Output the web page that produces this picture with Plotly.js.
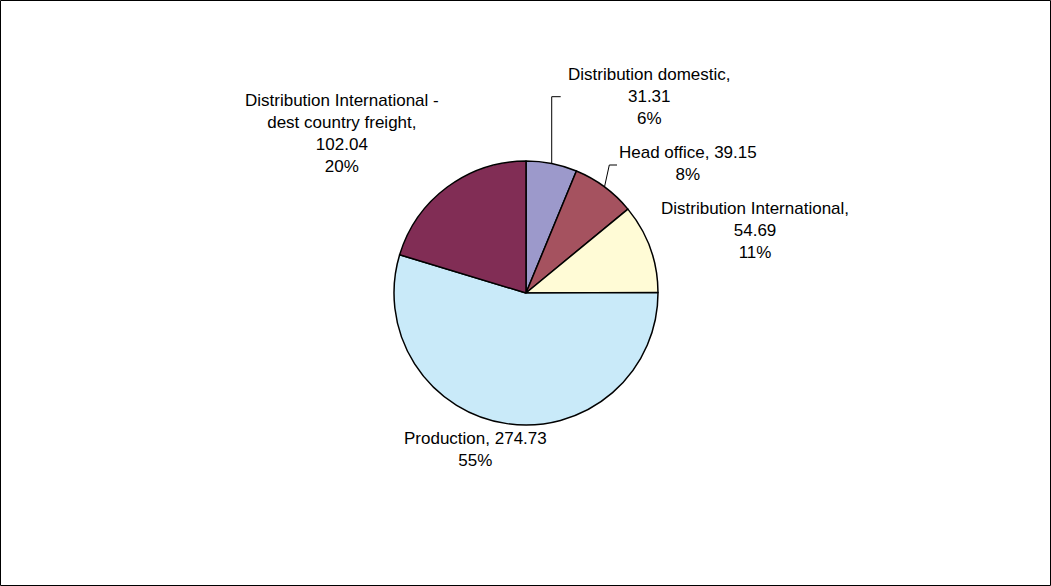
<!DOCTYPE html>
<html>
<head>
<meta charset="utf-8">
<script src="https://cdn.plot.ly/plotly-3.0.1.min.js"></script>
<style>
  html, body { margin: 0; padding: 0; background: #fff; }
  #chart { width: 1051px; height: 586px; }
</style>
</head>
<body>
<div id="chart"></div>
<script>
// ---- data ----
var categories = ['Distribution domestic', 'Head office', 'Distribution International', 'Production', 'Distribution International - dest country freight'];
var values = [31.31, 39.15, 54.69, 274.73, 102.04];
var colors = ['#9C99CB', '#A5525F', '#FFFBD6', '#C9EAF9', '#812D55'];
// label line-wrapping as shown in the chart (text before value)
var labelPrefix = ['Distribution domestic,<br>', 'Head office, ', 'Distribution International,<br>', 'Production, ', 'Distribution International -<br>dest country freight,<br>'];

// ---- layout constants (pixels) ----
var W = 1051, H = 586;
var cx = 526, cy = 293, R = 132;
var labelPos = [[649, 96], [688, 163], [755, 230], [475, 449], [342, 134]];
var leaders = [ // [elbowX, elbowY, endX, endY] or null
  [null, 96.7, 560.7, 96.7],
  [609.3, 165, 617, 165],
  null, null, null
];

function px(x) { return x / W; }
function py(y) { return 1 - y / H; }

var total = values.reduce(function (a, b) { return a + b; }, 0);

var trace = {
  type: 'pie',
  labels: categories,
  values: values,
  sort: false,
  direction: 'clockwise',
  rotation: 0,
  textinfo: 'none',
  hoverinfo: 'label+value+percent',
  marker: { colors: colors, line: { color: '#000000', width: 1.5 } },
  domain: { x: [px(cx - R), px(cx + R)], y: [py(cy + R), py(cy - R)] },
  showlegend: false
};

var annotations = [];
var shapes = [];
var cum = 0;
for (var i = 0; i < values.length; i++) {
  var pct = Math.round(values[i] / total * 100);
  annotations.push({
    xref: 'paper', yref: 'paper',
    x: px(labelPos[i][0]), y: py(labelPos[i][1]),
    xanchor: 'center', yanchor: 'middle', align: 'center',
    showarrow: false,
    text: labelPrefix[i] + values[i].toFixed(2) + '<br>' + pct + '%',
    font: { family: 'Liberation Sans, Arial, sans-serif', size: 17, color: '#000' }
  });
  var mid = (cum + values[i] / 2) / total * 2 * Math.PI;
  cum += values[i];
  if (leaders[i]) {
    var ax = cx + R * Math.sin(mid), ay = cy - R * Math.cos(mid);
    var ex = leaders[i][0] === null ? ax : leaders[i][0];
    var path = 'M ' + px(ax) + ',' + py(ay) + ' L ' + px(ex) + ',' + py(leaders[i][1]) +
               ' L ' + px(leaders[i][2]) + ',' + py(leaders[i][3]);
    shapes.push({ type: 'path', xref: 'paper', yref: 'paper', path: path,
                  line: { color: '#000', width: 1 } });
  }
}
// outer frame
shapes.push({ type: 'rect', xref: 'paper', yref: 'paper',
  x0: px(0.5), x1: px(W - 0.5), y0: py(H - 0.5), y1: py(0.5),
  line: { color: '#000', width: 1 } });

var layout = {
  width: W, height: H,
  margin: { l: 0, r: 0, t: 0, b: 0, pad: 0 },
  paper_bgcolor: '#ffffff',
  plot_bgcolor: '#ffffff',
  showlegend: false,
  annotations: annotations,
  shapes: shapes
};

Plotly.newPlot('chart', [trace], layout, { displayModeBar: false, staticPlot: true });
</script>
</body>
</html>
